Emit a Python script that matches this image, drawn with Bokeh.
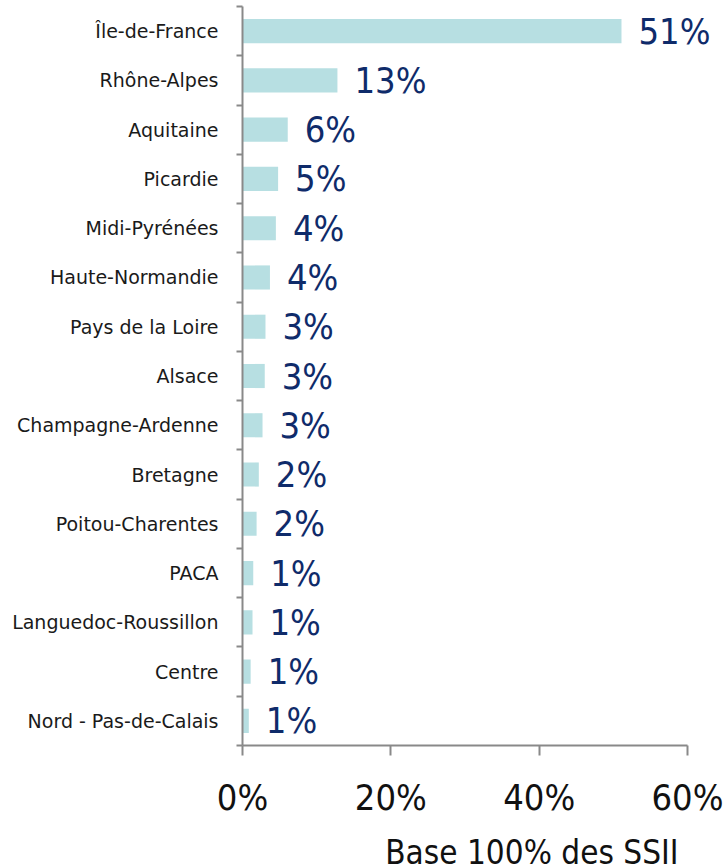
from bokeh.plotting import figure
from bokeh.layouts import column
from bokeh.models import (Range1d, LinearAxis, FixedTicker, CustomJSTickFormatter, Label,
                          LabelSet, ColumnDataSource)
from bokeh.embed import file_html
from bokeh.resources import INLINE
from bokeh.core.properties import value

# ---- data ----
regions = ["Île-de-France", "Rhône-Alpes", "Aquitaine", "Picardie", "Midi-Pyrénées",
           "Haute-Normandie", "Pays de la Loire", "Alsace", "Champagne-Ardenne",
           "Bretagne", "Poitou-Charentes", "PACA", "Languedoc-Roussillon", "Centre",
           "Nord - Pas-de-Calais"]
shares = [51.1, 12.8, 6.1, 4.8, 4.5, 3.7, 3.1, 3.0, 2.7, 2.2, 1.9, 1.45, 1.35, 1.1, 0.85]
value_labels = ["51%", "13%", "6%", "5%", "4%", "4%", "3%", "3%", "3%", "2%", "2%",
                "1%", "1%", "1%", "1%"]
x_ticks = [0, 20, 40, 60]
axis_title = "Base 100% des SSII"

BAR = "#B7DFE2"
NAVY = "#0F2B6A"
AXIS = "#898989"
NUM_FONT = "DejaVu Sans Condensed"
CAT_FONT = "DejaVu Sans"

W = 728
LEFT = 242          # frame left edge (px)
X60 = 687           # pixel position of the last tick
n = len(regions)
slot = [n - 0.5 - i for i in range(n)]   # first region at the top
src = ColumnDataSource(dict(region=regions, share=shares, label=value_labels, slot=slot))

# x range extends past the last tick so the value labels are not clipped
x_end = x_ticks[-1] * (W - LEFT) / (X60 - LEFT)

p = figure(width=W, height=820,
           x_range=Range1d(0, x_end), y_range=Range1d(0, n),
           output_backend="svg", toolbar_location=None,
           min_border_left=LEFT, min_border_right=0, min_border_top=6, min_border_bottom=73)
p.outline_line_color = None
p.xgrid.grid_line_color = None
p.ygrid.grid_line_color = None
p.background_fill_color = "white"
p.border_fill_color = "white"

# x axis
xa = p.xaxis[0]
xa.bounds = (x_ticks[0], x_ticks[-1])
xa.ticker = FixedTicker(ticks=x_ticks)
xa.formatter = CustomJSTickFormatter(code="return tick + '%';")
xa.major_tick_in = 0
xa.major_tick_out = 10
xa.minor_tick_line_color = None
xa.axis_line_color = AXIS
xa.axis_line_width = 2
xa.major_tick_line_color = AXIS
xa.major_tick_line_width = 2
xa.major_label_text_font = NUM_FONT
xa.major_label_text_font_size = "36px"
xa.major_label_text_color = "#111111"
xa.major_label_standoff = 21

# inner left axis: ticks at boundaries between categories
ya = p.yaxis[0]
ya.ticker = FixedTicker(ticks=list(range(n + 1)))
ya.formatter = CustomJSTickFormatter(code="return '';")
ya.major_tick_in = 0
ya.major_tick_out = 6
ya.minor_tick_line_color = None
ya.axis_line_color = AXIS
ya.axis_line_width = 2
ya.major_tick_line_color = AXIS
ya.major_tick_line_width = 2
ya.major_label_standoff = 0
ya.major_label_text_font_size = "1px"

# outer left axis: category names at slot centres
la = LinearAxis(ticker=FixedTicker(ticks=slot),
                formatter=CustomJSTickFormatter(args=dict(names=regions, n=n),
                                                code="return names[Math.round(n - 0.5 - tick)];"),
                axis_line_color=None, major_tick_line_color=None, minor_tick_line_color=None,
                major_label_text_font=CAT_FONT, major_label_text_font_size="19px",
                major_label_text_color="#1a1a1a", major_label_standoff=12)
p.add_layout(la, "left")

p.hbar(y="slot", left=0, right="share", height=0.49, source=src,
       fill_color=BAR, line_color=None)

p.add_layout(LabelSet(x="share", y="slot", text="label", source=src, x_offset=17,
                      text_align="left", text_baseline="middle",
                      text_font=value(NUM_FONT), text_font_size=value("36px"),
                      text_color=NAVY))

# strip below the chart holding the axis title
t = figure(width=W, height=47, x_range=p.x_range, y_range=Range1d(0, 1),
           x_axis_type=None, y_axis_type=None,
           output_backend="svg", toolbar_location=None,
           min_border_left=LEFT, min_border_right=0, min_border_top=0, min_border_bottom=0)
t.outline_line_color = None
t.grid.grid_line_color = None
t.add_layout(Label(x=x_ticks[-1], y=15, x_units="data", y_units="screen",
                   x_offset=-9, text=axis_title, text_align="right",
                   text_baseline="alphabetic", text_font=NUM_FONT,
                   text_font_size="33px", text_color="#111111"))

layout = column(p, t, spacing=0)
open("out.html", "w").write(file_html(layout, INLINE))
